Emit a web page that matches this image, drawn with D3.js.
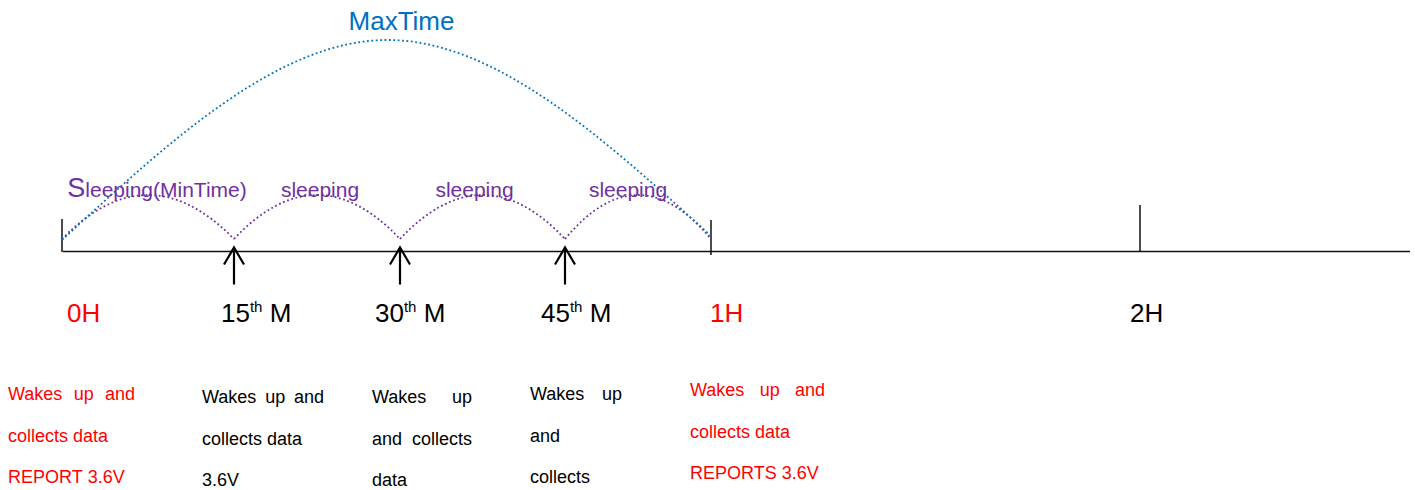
<!DOCTYPE html>
<html>
<head>
<meta charset="utf-8">
<script src="https://cdn.jsdelivr.net/npm/d3@7/dist/d3.min.js"></script>
<style>
    body { margin: 0; background: #ffffff; }
    svg text { font-family: "Liberation Sans", Arial, sans-serif; }
</style>
</head>
<body>
<svg id="chart" width="1415" height="490"></svg>
<script>
// ---- data ----
// every mark on the time line, in minutes from the first report
var eventTimes = [0, 15, 30, 45, 60, 120];
var tickNames = ["0H", "15", "30", "45", "1H", "2H"];
var tickSups = ["", "th", "th", "th", "", ""];
var tickTails = ["", " M", " M", " M", "", ""];
var tickIsReport = [true, false, false, false, true, false];

var boundaryTimes = [0, 60, 120];      // plain vertical ticks
var arrowTimes = [15, 30, 45];         // wake-up arrows

var sleepStarts = [0, 15, 30, 45];
var sleepEnds = [15, 30, 45, 60];
var sleepLabels = ["Sleeping(MinTime)", "sleeping", "sleeping", "sleeping"];

var maxTimeSpan = [0, 60];
var maxTimeLabel = "MaxTime";

var noteTimes = [0, 15, 30, 45, 60];
var noteLines = [
    ["Wakes up and", "collects data", "REPORT 3.6V"],
    ["Wakes up and", "collects data", "3.6V"],
    ["Wakes up", "and collects", "data"],
    ["Wakes up", "and", "collects"],
    ["Wakes up and", "collects data", "REPORTS 3.6V"]
];
// which lines are stretched to the column width (like Word justify)
var noteJustify = [
    [true, false, false],
    [true, false, false],
    [true, true, false],
    [true, false, false],
    [true, false, false]
];

// ---- layout ----
var W = 1415, H = 490;
var axisY = 251.5;
var red = "#ff0000", purple = "#7030a0", blue = "#0070c0";

// the original drawing is not to scale, so the time scale is piecewise
var x = d3.scaleLinear().domain(eventTimes).range([62, 234, 400, 565, 711, 1140]);

var boundaryTop = [219, 220, 205];
var boundaryBottom = [252, 255, 252];
var tickLabelDx = [5, -13, -25, -24, -1, -10];
var tickLabelY = 322;

var noteDx = [-54, -32, -28, -35, -21];
var noteY0 = [400, 403, 403, 400, 396];
var noteWidth = [127, 122, 100, 92, 135];
var noteStep = 41.5;

var sleepBaseY = 239, sleepPeakY = 195;
var sleepLabelDx = [9, 3, -8, -10];
var maxBaseY = [240, 236], maxPeakY = 40;

var svg = d3.select("#chart");

// ---- time axis ----
svg.append("line")
    .attr("x1", x(0) + 1).attr("x2", W - 5)
    .attr("y1", axisY).attr("y2", axisY)
    .attr("stroke", "#111").attr("stroke-width", 1.5);

svg.selectAll("line.bound")
    .data(boundaryTimes)
    .enter().append("line")
    .attr("class", "bound")
    .attr("x1", function (d) { return x(d); })
    .attr("x2", function (d) { return x(d); })
    .attr("y1", function (d, i) { return boundaryTop[i]; })
    .attr("y2", function (d, i) { return boundaryBottom[i]; })
    .attr("stroke", "#111").attr("stroke-width", 1.5);

// arrows pointing up at the wake-up moments
var arrows = svg.selectAll("g.arrow")
    .data(arrowTimes)
    .enter().append("g")
    .attr("class", "arrow")
    .attr("transform", function (d) { return "translate(" + x(d) + "," + (axisY - 4) + ")"; });
arrows.append("path")
    .attr("d", "M0,0V37M-10,17L0,0L10,17")
    .attr("fill", "none")
    .attr("stroke", "#000").attr("stroke-width", 2.2)
    .attr("stroke-linejoin", "miter");

// ---- sleeping arcs (purple, dotted) ----
svg.selectAll("path.sleep")
    .data(sleepStarts)
    .enter().append("path")
    .attr("class", "sleep")
    .attr("d", function (d, i) {
        var p = d3.path(),
            x0 = x(d), x1 = x(sleepEnds[i]);
        p.moveTo(x0, sleepBaseY);
        p.quadraticCurveTo((x0 + x1) / 2, 2 * sleepPeakY - sleepBaseY, x1, sleepBaseY);
        return p.toString();
    })
    .attr("fill", "none")
    .attr("stroke", purple).attr("stroke-width", 1.8)
    .attr("stroke-dasharray", "1.8 2.6");

// ---- MaxTime arc (blue, dotted) ----
var maxLine = d3.line().curve(d3.curveNatural);
var mx0 = x(maxTimeSpan[0]), mx1 = x(maxTimeSpan[1]);
svg.append("path")
    .attr("d", maxLine([[mx0, maxBaseY[0]], [(mx0 + mx1) / 2, maxPeakY], [mx1, maxBaseY[1]]]))
    .attr("fill", "none")
    .attr("stroke", blue).attr("stroke-width", 1.8)
    .attr("stroke-dasharray", "1.8 2.6");

svg.append("text")
    .attr("x", (mx0 + mx1) / 2 + 15).attr("y", 30)
    .attr("text-anchor", "middle")
    .attr("font-size", 26)
    .attr("fill", blue)
    .text(maxTimeLabel);

// sleeping labels, the first one starts with a big "S"
var sleepText = svg.selectAll("text.sleep")
    .data(sleepLabels)
    .enter().append("text")
    .attr("class", "sleep")
    .attr("x", function (d, i) { return (x(sleepStarts[i]) + x(sleepEnds[i])) / 2 + sleepLabelDx[i]; })
    .attr("y", 197)
    .attr("text-anchor", "middle")
    .attr("fill", purple)
    .attr("font-size", 21);
sleepText.each(function (d) {
    var t = d3.select(this);
    if (d[0] === "S") {
        t.append("tspan").attr("font-size", 27).text("S");
        t.append("tspan").text(d.substr(1));
    } else {
        t.text(d);
    }
});

// ---- tick labels ----
var labels = svg.selectAll("text.tick")
    .data(eventTimes)
    .enter().append("text")
    .attr("class", "tick")
    .attr("x", function (d, i) { return x(d) + tickLabelDx[i]; })
    .attr("y", tickLabelY)
    .attr("font-size", 26)
    .attr("fill", function (d, i) { return tickIsReport[i] ? red : "#000"; });
labels.each(function (d, i) {
    var t = d3.select(this);
    t.append("tspan").text(tickNames[i]);
    if (tickSups[i]) {
        t.append("tspan").attr("font-size", 15).attr("dy", -10).text(tickSups[i]);
        t.append("tspan").attr("dy", 10).text(tickTails[i]);
    }
});

// ---- notes under the axis ----
noteTimes.forEach(function (d, c) {
    var left = x(d) + noteDx[c],
        colour = tickIsReport[c] ? red : "#000";

    noteLines[c].forEach(function (line, r) {
        var y = noteY0[c] + r * noteStep,
            words = line.split(" "),
            g = svg.append("text")
                .attr("y", y)
                .attr("font-size", 18)
                .attr("fill", colour),
            widths = [],
            total = 0,
            gap,
            pos;

        // measure each word first
        words.forEach(function (w) {
            var s = g.append("tspan").text(w);
            widths.push(s.node().getComputedTextLength());
            s.remove();
        });
        widths.forEach(function (w) { total += w; });

        if (noteJustify[c][r] && words.length > 1) {
            gap = (noteWidth[c] - total) / (words.length - 1);
        } else {
            gap = 18 * 0.278;
        }

        pos = left;
        words.forEach(function (w, k) {
            g.append("tspan").attr("x", pos).text(w);
            pos += widths[k] + gap;
        });
    });
});
</script>
</body>
</html>
